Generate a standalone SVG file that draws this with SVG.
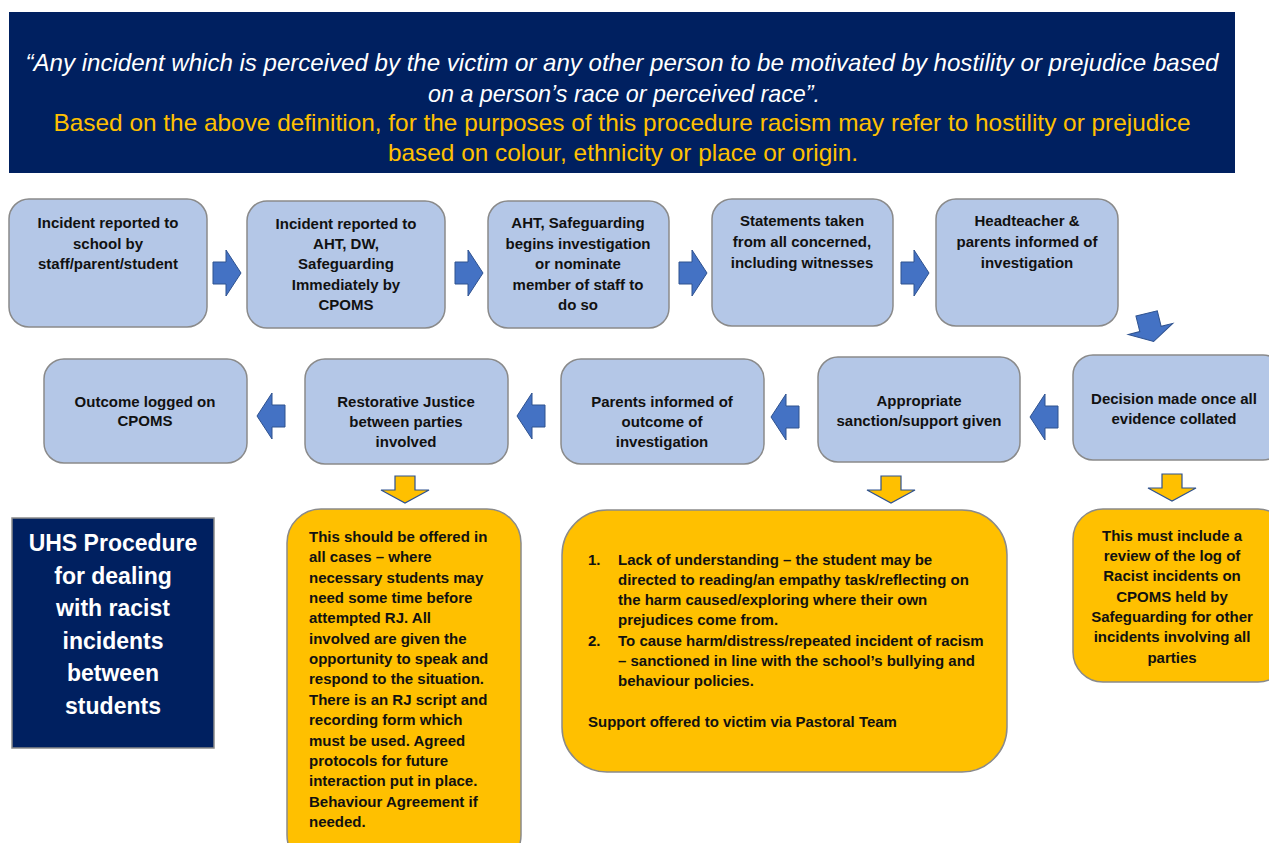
<svg xmlns="http://www.w3.org/2000/svg" width="1269" height="843" viewBox="0 0 1269 843">
<style>
.box{fill:#B4C7E7;stroke:#8a8a8a;stroke-width:1.5}
.ybox{fill:#FFC000;stroke:#8a8a8a;stroke-width:1.5}
.navy{fill:#002060;stroke:#8a8a8a;stroke-width:1.5}
.t{font-family:"Liberation Sans",Arial,sans-serif;font-weight:bold;font-size:15px;fill:#111}
.c{text-anchor:middle}
.hw{font-family:"Liberation Sans",Arial,sans-serif;font-style:italic;font-size:24px;fill:#fff;text-anchor:middle}
.hy{font-family:"Liberation Sans",Arial,sans-serif;font-size:24px;fill:#FFC000;text-anchor:middle}
.uhs{font-family:"Liberation Sans",Arial,sans-serif;font-weight:bold;font-size:23px;fill:#fff;text-anchor:middle}
.ba{fill:#4472C4;stroke:#2F528F;stroke-width:1}
.ya{fill:#FFC000;stroke:#2F528F;stroke-width:1.2}
</style>
<defs>
<path id="ra" d="M-14,-11 H-1 V-23 L14,0 L-1,23 V11 H-14 Z"/>
<path id="da" d="M-10,-13 H10 V1 H24 L0,14 L-24,1 H-10 Z"/>
<path id="bda" d="M-11,-14 H11 V2 H23 L0,15 L-23,2 H-11 Z"/>
</defs>

<g id="header">
<rect x="9" y="12" width="1226" height="161" fill="#002060"/>
<text class="hw" x="622" y="71" textLength="1193" lengthAdjust="spacingAndGlyphs">“Any incident which is perceived by the victim or any other person to be motivated by hostility or prejudice based</text>
<text class="hw" x="624" y="102" textLength="392" lengthAdjust="spacingAndGlyphs">on a person’s race or perceived race”.</text>
<text class="hy" x="622" y="131" textLength="1137" lengthAdjust="spacingAndGlyphs">Based on the above definition, for the purposes of this procedure racism may refer to hostility or prejudice</text>
<text class="hy" x="623" y="161" textLength="470" lengthAdjust="spacingAndGlyphs">based on colour, ethnicity or place or origin.</text>
</g>

<g id="connectors">
<use href="#ra" class="ba" transform="translate(227,273)"/>
<use href="#ra" class="ba" transform="translate(469,273)"/>
<use href="#ra" class="ba" transform="translate(693,273)"/>
<use href="#ra" class="ba" transform="translate(915,273)"/>
<use href="#bda" class="ba" transform="translate(1150,327) rotate(-14)"/>
<use href="#ra" class="ba" transform="translate(1044,417) scale(-1,1)"/>
<use href="#ra" class="ba" transform="translate(785,417) scale(-1,1)"/>
<use href="#ra" class="ba" transform="translate(531,416) scale(-1,1)"/>
<use href="#ra" class="ba" transform="translate(271,416) scale(-1,1)"/>
<use href="#da" class="ya" transform="translate(405,489)"/>
<use href="#da" class="ya" transform="translate(891,489)"/>
<use href="#da" class="ya" transform="translate(1172,487)"/>
</g>

<g id="n1">
<rect class="box" x="9" y="199" width="198" height="128" rx="20"/>
<text class="t c" x="108" y="228">Incident reported to</text>
<text class="t c" x="108" y="249">school by</text>
<text class="t c" x="108" y="269">staff/parent/student</text>
</g>
<g id="n2">
<rect class="box" x="247" y="201" width="198" height="127" rx="20"/>
<text class="t c" x="346" y="229">Incident reported to</text>
<text class="t c" x="346" y="249">AHT, DW,</text>
<text class="t c" x="346" y="269">Safeguarding</text>
<text class="t c" x="346" y="290">Immediately by</text>
<text class="t c" x="346" y="310">CPOMS</text>
</g>
<g id="n3">
<rect class="box" x="488" y="201" width="181" height="127" rx="20"/>
<text class="t c" x="578" y="228">AHT, Safeguarding</text>
<text class="t c" x="578" y="249">begins investigation</text>
<text class="t c" x="578" y="269">or nominate</text>
<text class="t c" x="578" y="290">member of staff to</text>
<text class="t c" x="578" y="310">do so</text>
</g>
<g id="n4">
<rect class="box" x="712" y="199" width="181" height="127" rx="20"/>
<text class="t c" x="802" y="226">Statements taken</text>
<text class="t c" x="802" y="247">from all concerned,</text>
<text class="t c" x="802" y="268">including witnesses</text>
</g>
<g id="n5">
<rect class="box" x="936" y="199" width="182" height="127" rx="20"/>
<text class="t c" x="1027" y="226">Headteacher &amp;</text>
<text class="t c" x="1027" y="247">parents informed of</text>
<text class="t c" x="1027" y="268">investigation</text>
</g>

<g id="n6">
<rect class="box" x="1073" y="355" width="210" height="105" rx="20"/>
<text class="t c" x="1174" y="404">Decision made once all</text>
<text class="t c" x="1174" y="424">evidence collated</text>
</g>
<g id="n7">
<rect class="box" x="818" y="357" width="202" height="105" rx="20"/>
<text class="t c" x="919" y="406">Appropriate</text>
<text class="t c" x="919" y="426">sanction/support given</text>
</g>
<g id="n8">
<rect class="box" x="561" y="359" width="203" height="105" rx="20"/>
<text class="t c" x="662" y="407">Parents informed of</text>
<text class="t c" x="662" y="427">outcome of</text>
<text class="t c" x="662" y="447">investigation</text>
</g>
<g id="n9">
<rect class="box" x="305" y="359" width="203" height="105" rx="20"/>
<text class="t c" x="406" y="407">Restorative Justice</text>
<text class="t c" x="406" y="427">between parties</text>
<text class="t c" x="406" y="447">involved</text>
</g>
<g id="n10">
<rect class="box" x="44" y="359" width="203" height="104" rx="20"/>
<text class="t c" x="145" y="407">Outcome logged on</text>
<text class="t c" x="145" y="426">CPOMS</text>
</g>

<g id="title">
<rect class="navy" x="12" y="518" width="202" height="230"/>
<text class="uhs" x="113" y="551">UHS Procedure</text>
<text class="uhs" x="113" y="584">for dealing</text>
<text class="uhs" x="113" y="616">with racist</text>
<text class="uhs" x="113" y="649">incidents</text>
<text class="uhs" x="113" y="681">between</text>
<text class="uhs" x="113" y="714">students</text>
</g>

<g id="rjnote">
<rect class="ybox" x="287" y="509" width="234" height="360" rx="34"/>
<text class="t" x="309" y="542">This should be offered in</text>
<text class="t" x="309" y="562">all cases – where</text>
<text class="t" x="309" y="583">necessary students may</text>
<text class="t" x="309" y="603">need some time before</text>
<text class="t" x="309" y="623">attempted RJ.  All</text>
<text class="t" x="309" y="644">involved are given the</text>
<text class="t" x="309" y="664">opportunity to speak and</text>
<text class="t" x="309" y="684">respond to the situation.</text>
<text class="t" x="309" y="705">There is an RJ script and</text>
<text class="t" x="309" y="725">recording form which</text>
<text class="t" x="309" y="746">must be used.  Agreed</text>
<text class="t" x="309" y="766">protocols for future</text>
<text class="t" x="309" y="786">interaction put in place.</text>
<text class="t" x="309" y="807">Behaviour Agreement if</text>
<text class="t" x="309" y="827">needed.</text>
</g>

<g id="sanctionnote">
<rect class="ybox" x="562" y="510" width="445" height="262" rx="45"/>
<text class="t" x="588" y="565">1.</text>
<text class="t" x="618" y="565">Lack of understanding – the student may be</text>
<text class="t" x="618" y="585">directed to reading/an empathy task/reflecting on</text>
<text class="t" x="618" y="605">the harm caused/exploring where their own</text>
<text class="t" x="618" y="625">prejudices come from.</text>
<text class="t" x="588" y="646">2.</text>
<text class="t" x="618" y="646">To cause harm/distress/repeated incident of racism</text>
<text class="t" x="618" y="666">– sanctioned in line with the school’s bullying and</text>
<text class="t" x="618" y="686">behaviour policies.</text>
<text class="t" x="588" y="727">Support offered to victim via Pastoral Team</text>
</g>

<g id="decisionnote">
<rect class="ybox" x="1073" y="509" width="215" height="173" rx="30"/>
<text class="t c" x="1172" y="541">This must include a</text>
<text class="t c" x="1172" y="561">review of the log of</text>
<text class="t c" x="1172" y="581">Racist incidents on</text>
<text class="t c" x="1172" y="602">CPOMS held by</text>
<text class="t c" x="1172" y="622">Safeguarding for other</text>
<text class="t c" x="1172" y="642">incidents involving all</text>
<text class="t c" x="1172" y="663">parties</text>
</g>
</svg>
